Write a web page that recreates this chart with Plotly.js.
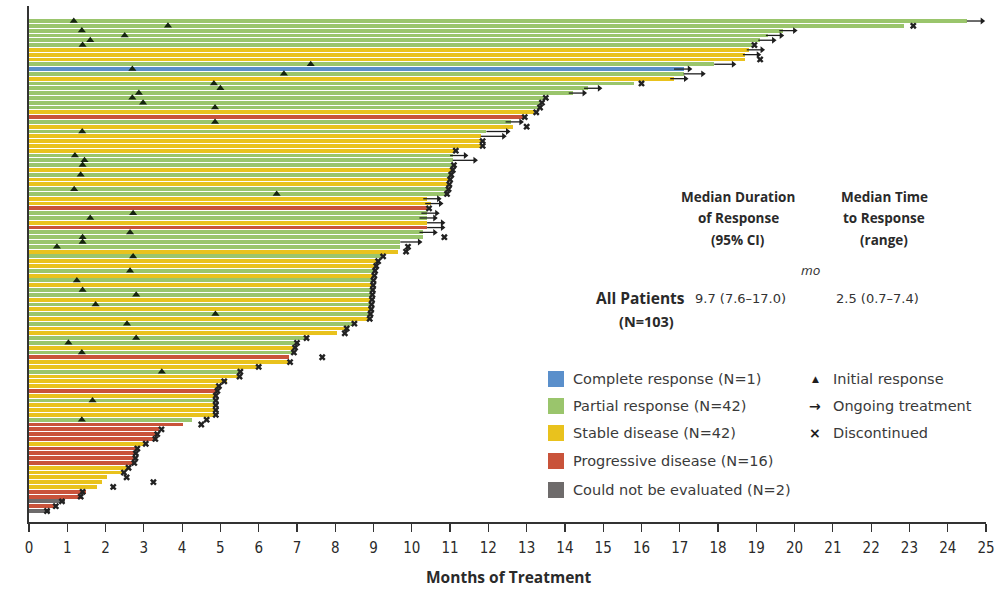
<!DOCTYPE html>
<html>
<head>
<meta charset="utf-8">
<script src="https://cdn.plot.ly/plotly-3.0.1.min.js"></script>
<style>
  html, body { margin: 0; padding: 0; background: #fff; }
  #chart { width: 997px; height: 589px; }
</style>
</head>
<body>
<div id="chart"></div>
<script>
// One row per patient, ordered by time on treatment (longest first).
// Best overall response: CR, PR, SD, PD, NE (could not be evaluated).
const bestResponse = [
  'PR','PR','PR','PR','PR','PR','SD','SD','SD','PR',
  'CR','PR','SD','PR','PR','PR','PR','PR','PR','SD',
  'PD','PR','SD','PR','SD','SD','SD','SD','PR','PR',
  'PR','SD','PR','SD','SD','PR','PR','SD','SD','PD',
  'PR','PR','SD','PD','PR','PR','PR','PR','SD','PR',
  'SD','SD','PR','SD','PR','SD','PR','PR','SD','PR',
  'SD','PR','SD','PR','SD','SD','PR','PR','SD','PR',
  'PD','SD','SD','PR','SD','SD','SD','PD','SD','PR',
  'SD','SD','SD','PR','PD','PD','PD','PD','SD','PD',
  'PD','PD','PD','SD','SD','SD','SD','SD','PD','PD',
  'NE','PD','NE'
];

// Months on treatment (bar length)
const treatmentMonths = [
  24.5, 22.85, 19.7, 19.3, 19.1, 18.9, 18.8, 18.7, 18.7, 17.9,
  17.1, 17.1, 16.85, 15.8, 14.6, 14.2, 13.45, 13.35, 13.3, 13.2,
  12.9, 12.6, 12.65, 11.95, 11.8, 11.8, 11.8, 11.1, 11.07, 11.07,
  11.07, 11.04, 11.0, 10.97, 10.95, 10.94, 10.9, 10.4, 10.5, 10.4,
  10.4, 10.4, 10.4, 10.4, 10.3, 10.3, 9.7, 9.7, 9.65, 9.2,
  9.1, 9.05, 9.02, 9.0, 8.98, 8.97, 8.96, 8.95, 8.94, 8.93,
  8.92, 8.9, 8.88, 8.46, 8.25, 8.05, 7.2, 6.95, 6.9, 6.9,
  6.8, 6.8, 5.98, 5.5, 5.46, 5.16, 4.94, 4.9, 4.86, 4.86,
  4.86, 4.86, 4.86, 4.25, 4.03, 3.4, 3.33, 3.33, 3.03, 2.81,
  2.77, 2.77, 2.72, 2.64, 2.46, 2.03, 1.9, 1.77, 1.5, 1.38,
  0.94, 0.73, 0.55
];

// Treatment status: O = ongoing, D = discontinued
const treatmentStatus = [
  'O','D','O','O','O','D','O','O','D','O',
  'O','O','O','D','O','O','D','D','D','D',
  'D','O','D','O','O','D','D','D','O','O',
  'D','D','D','D','D','D','D','O','O','D',
  'O','O','O','O','O','D','O','D','D','D',
  'D','D','D','D','D','D','D','D','D','D',
  'D','D','D','D','D','D','D','D','D','D',
  'D','D','D','D','D','D','D','D','D','D',
  'D','D','D','D','D','D','D','D','D','D',
  'D','D','D','D','D','D','D','D','D','D',
  'D','D','D'
];

// Month at which the status was recorded
const statusMonths = [
  24.9, 23.1, 20.0, 19.65, 19.45, 18.95, 19.15, 19.05, 19.1, 18.4,
  17.25, 17.6, 17.15, 16.0, 14.9, 14.5, 13.5, 13.4, 13.35, 13.25,
  12.95, 12.85, 13.0, 12.5, 12.4, 11.85, 11.85, 11.15, 11.4, 11.65,
  11.1, 11.07, 11.03, 11.0, 10.98, 10.96, 10.92, 10.7, 10.75, 10.45,
  10.65, 10.6, 10.8, 10.8, 10.6, 10.85, 10.2, 9.9, 9.85, 9.25,
  9.12, 9.07, 9.04, 9.02, 9.0, 8.99, 8.98, 8.97, 8.96, 8.95,
  8.94, 8.92, 8.9, 8.5, 8.3, 8.25, 7.25, 7.0, 6.95, 6.92,
  7.66, 6.82, 6.0, 5.52, 5.5, 5.1, 4.96, 4.92, 4.88, 4.88,
  4.88, 4.88, 4.88, 4.64, 4.5, 3.46, 3.35, 3.3, 3.05, 2.83,
  2.79, 2.78, 2.75, 2.6, 2.48, 2.55, 3.25, 2.2, 1.4, 1.35,
  0.86, 0.7, 0.47
];

// Month of initial response (responders only)
const responseOnsetMonths = [
  1.17, 3.63, 1.38, 2.5, 1.6, 1.4, null, null, null, 7.36,
  2.7, 6.66, null, 4.83, 5.0, 2.87, 2.7, 2.98, 4.86, null,
  null, 4.86, null, 1.39, null, null, null, null, 1.2, 1.45,
  1.4, null, 1.35, null, null, 1.18, 6.47, null, null, null,
  2.72, 1.6, null, null, 2.64, 1.4, 1.4, 0.73, null, 2.72,
  null, null, 2.64, null, 1.25, null, 1.4, 2.8, null, 1.74,
  null, 4.87, null, 2.56, null, null, 2.8, 1.03, null, 1.38,
  null, null, null, 3.47, null, null, null, null, null, 1.66,
  null, null, null, 1.38, null, null, null, null, null, null,
  null, null, null, null, null, null, null, null, null, null,
  null, null, null
];

const responseCodes = ['CR', 'PR', 'SD', 'PD', 'NE'];
const responseNames = ['Complete response', 'Partial response', 'Stable disease',
                       'Progressive disease', 'Could not be evaluated'];
const responseColors = ['#5a8fcb', '#9ac56c', '#e9c21d', '#c9533a', '#6e6b6b'];

const xTicks = [0,1,2,3,4,5,6,7,8,9,10,11,12,13,14,15,16,17,18,19,20,21,22,23,24,25];

const summaryColumns = ['Median Duration|of Response|(95% CI)', 'Median Time|to Response|(range)'];
const summaryGroup = 'All Patients|(N=103)';
const summaryValues = ['9.7 (7.6\u201317.0)', '2.5 (0.7\u20137.4)'];

// ---- traces ----
const rows = bestResponse.map((_, i) => i);
const traces = [];

responseCodes.forEach((code, k) => {
  const idx = rows.filter(i => bestResponse[i] === code);
  traces.push({
    type: 'bar', orientation: 'h',
    y: idx, x: idx.map(i => treatmentMonths[i]),
    width: 0.8,
    marker: { color: responseColors[k], line: { width: 0 } },
    hoverinfo: 'skip', showlegend: false
  });
});

// ongoing treatment arrows: shaft + head
const ongoing = rows.filter(i => treatmentStatus[i] === 'O');
const shaftX = [], shaftY = [];
ongoing.forEach(i => {
  const tip = statusMonths[i];
  const start = Math.min(treatmentMonths[i], tip - 0.4);
  shaftX.push(start, tip, null);
  shaftY.push(i, i, null);
});
traces.push({
  type: 'scatter', mode: 'lines', x: shaftX, y: shaftY,
  line: { color: '#1e1e1e', width: 1.3 }, hoverinfo: 'skip', showlegend: false
});
traces.push({
  type: 'scatter', mode: 'markers',
  x: ongoing.map(i => statusMonths[i]), y: ongoing,
  marker: { symbol: 'triangle-right', size: 6, color: '#1e1e1e' },
  hoverinfo: 'skip', showlegend: false
});

// discontinued
const stopped = rows.filter(i => treatmentStatus[i] === 'D');
traces.push({
  type: 'scatter', mode: 'markers',
  x: stopped.map(i => statusMonths[i]), y: stopped,
  marker: { symbol: 'x', size: 6, color: '#222' },
  hoverinfo: 'skip', showlegend: false
});

// initial response
const responders = rows.filter(i => responseOnsetMonths[i] !== null);
traces.push({
  type: 'scatter', mode: 'markers',
  x: responders.map(i => responseOnsetMonths[i]), y: responders,
  marker: { symbol: 'triangle-up', size: 7, color: '#15240f' },
  hoverinfo: 'skip', showlegend: false
});

// ---- page geometry helpers (pixel -> paper) ----
const L = 29, T = 6, W = 957, H = 516;
const px = x => (x - L) / W;
const py = y => (T + H - y) / H;

const headFont = 'Open Sans, Noto Sans, sans-serif';
const bodyFont = 'DejaVu Sans, Noto Sans, sans-serif';
const ann = [];
const shapes = [];

// summary table
const colCenters = [738, 884];
const lineYs = [197, 218, 240];
summaryColumns.forEach((col, c) => {
  col.split('|').forEach((line, j) => {
    ann.push({ text: line, xref: 'paper', yref: 'paper', x: px(colCenters[c]), y: py(lineYs[j]),
      xanchor: 'center', yanchor: 'middle', showarrow: false,
      font: { family: headFont, size: 13.5, weight: 700, color: '#2a2a2a' } });
  });
});
ann.push({ text: 'mo', xref: 'paper', yref: 'paper', x: px(810), y: py(270),
  xanchor: 'center', yanchor: 'middle', showarrow: false,
  font: { family: headFont, size: 13.5, style: 'italic', color: '#333' } });
const grp = summaryGroup.split('|');
ann.push({ text: grp[0], xref: 'paper', yref: 'paper', x: px(687), y: py(298),
  xanchor: 'right', yanchor: 'middle', showarrow: false,
  font: { family: headFont, size: 15.5, weight: 700, color: '#2a2a2a' } });
ann.push({ text: grp[1], xref: 'paper', yref: 'paper', x: px(646), y: py(321),
  xanchor: 'center', yanchor: 'middle', showarrow: false,
  font: { family: headFont, size: 14.5, weight: 700, color: '#2a2a2a' } });
[693, 834].forEach((x0, c) => {
  ann.push({ text: summaryValues[c], xref: 'paper', yref: 'paper', x: px(x0), y: py(298),
    xanchor: 'left', yanchor: 'middle', showarrow: false,
    font: { family: bodyFont, size: 13, color: '#333' } });
});

// category key
const keyYs = [379, 406, 433, 461, 490];
responseCodes.forEach((code, k) => {
  const n = bestResponse.filter(r => r === code).length;
  shapes.push({ type: 'rect', xref: 'paper', yref: 'paper',
    x0: px(548), x1: px(564), y0: py(keyYs[k] + 8), y1: py(keyYs[k] - 8),
    fillcolor: responseColors[k], line: { width: 0 } });
  ann.push({ text: responseNames[k] + ' (N=' + n + ')', xref: 'paper', yref: 'paper',
    x: px(571), y: py(keyYs[k]), xanchor: 'left', yanchor: 'middle', showarrow: false,
    font: { family: bodyFont, size: 14.5, color: '#3a3a3a' } });
});

// symbol key
const symbolKey = [['\u25B2', 'Initial response', 9], ['\u2192', 'Ongoing treatment', 14], ['\u00D7', 'Discontinued', 14]];
symbolKey.forEach((s, k) => {
  ann.push({ text: s[0], xref: 'paper', yref: 'paper', x: px(815), y: py(keyYs[k]),
    xanchor: 'center', yanchor: 'middle', showarrow: false,
    font: { family: 'DejaVu Sans, sans-serif', size: s[2], weight: 700, color: '#1e1e1e' } });
  ann.push({ text: s[1], xref: 'paper', yref: 'paper', x: px(831), y: py(keyYs[k]),
    xanchor: 'left', yanchor: 'middle', showarrow: false,
    font: { family: bodyFont, size: 14.5, color: '#3a3a3a' } });
});

// x axis title
ann.push({ text: 'Months of Treatment', xref: 'paper', yref: 'paper', x: px(508), y: py(577),
  xanchor: 'center', yanchor: 'middle', showarrow: false,
  font: { family: headFont, size: 15.5, weight: 700, color: '#2a2a2a' } });

const layout = {
  width: 997, height: 589,
  margin: { l: L, r: 997 - L - W, t: T, b: 589 - T - H, pad: 0 },
  paper_bgcolor: '#fff', plot_bgcolor: '#fff',
  barmode: 'overlay', bargap: 0,
  showlegend: false,
  xaxis: {
    range: [0, 25], tickvals: xTicks, ticktext: xTicks.map(String),
    ticks: 'outside', ticklen: 8, tickwidth: 1.2, tickcolor: '#333',
    showline: true, linecolor: '#333', linewidth: 1.6,
    showgrid: false, zeroline: false, fixedrange: true,
    tickfont: { family: 'Liberation Sans Narrow, DejaVu Sans Condensed, sans-serif', size: 15, color: '#2a2a2a' },
    ticklabelstandoff: 3
  },
  yaxis: {
    range: [102 + (T + H - 511) / 4.8, -(21 - T) / 4.8],
    showline: true, linecolor: '#333', linewidth: 1.6,
    showticklabels: false, ticks: '', showgrid: false, zeroline: false, fixedrange: true
  },
  annotations: ann,
  shapes: shapes
};

Plotly.newPlot('chart', traces, layout, { staticPlot: true, displayModeBar: false });
</script>
</body>
</html>
